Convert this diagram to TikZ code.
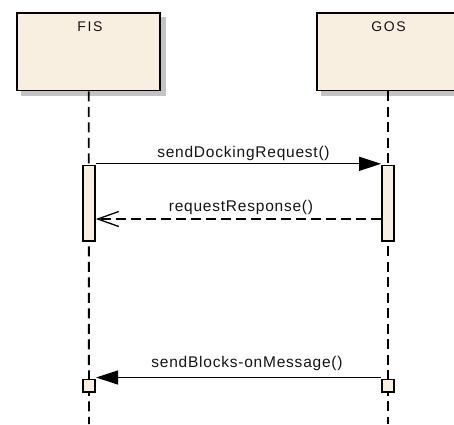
\documentclass[tikz,border=0pt]{standalone}
\usepackage{fontspec}
\setmainfont{Liberation Sans}
\newfontfamily\msgfont{Liberation Sans}[LetterSpace=5]
\newfontfamily\hdrfont{Liberation Sans}[LetterSpace=12]
\usetikzlibrary{arrows.meta,calc,backgrounds}
\definecolor{boxfill}{RGB}{249,239,224}
\definecolor{shadowgray}{RGB}{195,195,195}
\definecolor{txt}{RGB}{20,20,20}
\tikzset{
  headbox/.style={draw=black, fill=boxfill, line width=1.9pt, minimum width=142.7pt, minimum height=77.5pt, inner sep=0pt},
  actbox/.style={draw=black, fill=boxfill, line width=1.7pt, minimum width=12pt, minimum height=75.5pt, inner sep=0pt},
  smallbox/.style={draw=black, fill=boxfill, line width=1.7pt, minimum width=12.4pt, minimum height=12.4pt, inner sep=0pt},
  lifeline/.style={draw=black, line width=1.9pt, dash pattern=on 10pt off 5.5pt},
  hdrtext/.style={font=\hdrfont\fontsize{14}{16}\selectfont, text=txt, anchor=base, inner sep=0pt},
  msgtext/.style={font=\msgfont\fontsize{15.5}{18}\selectfont, text=txt, anchor=base, inner sep=0pt},
  syncmsg/.style={draw=black, line width=1.2pt, -{Triangle[length=22pt,width=14pt]}},
  replymsg/.style={draw=black, line width=1.4pt, dash pattern=on 10pt off 5pt, -{Straight Barb[length=21pt,width=15pt,line width=1.3pt]}},
}
\begin{document}
\begin{tikzpicture}[x=1pt,y=-1pt]
\useasboundingbox (0,0) rectangle (454,424);
\clip (0,0) rectangle (454,424);
% header boxes
\node[headbox] (fis) at (88.7,51.7) {};
\node[headbox] (gos) at (388,51.7) {};
\node[hdrtext] (fist) at (90,31.7) {FIS};
\node[hdrtext] (gost) at (388.5,31.2) {GOS};
\begin{pgfonlayer}{background}
  \fill[shadowgray] ($(fis.north west)+(5,5)$) rectangle ($(fis.south east)+(5,5)$);
  \fill[shadowgray] ($(gos.north west)+(5,5)$) rectangle ($(gos.south east)+(5,5)$);
\end{pgfonlayer}
% lifelines
\coordinate (fisend) at (89,424);
\coordinate (gosend) at (388,424);
\draw[lifeline] (fis.south) -- (fisend);
\draw[lifeline] (gos.south) -- (gosend);
% activations
\node[actbox] (a1) at (89,203.3) {};
\node[actbox] (a2) at (388,203.3) {};
\node[smallbox] (s1) at (89,385.7) {};
\node[smallbox] (s2) at (388,385.7) {};
% messages
\coordinate (m1) at (0,163.8);
\coordinate (m2) at (0,219);
\coordinate (m3) at (0,377.5);
\draw[syncmsg] (a1.east |- m1) -- (a2.west |- m1);
\draw[replymsg] (a2.west |- m2) -- (a1.east |- m2);
\draw[syncmsg] (s2.west |- m3) -- (s1.east |- m3);
% labels
\node[msgtext] (l1) at (243.5,157.3) {sendDockingRequest()};
\node[msgtext] (l2) at (241,211.7) {requestResponse()};
\node[msgtext] (l3) at (247,367.3) {sendBlocks-onMessage()};
\end{tikzpicture}
\end{document}
